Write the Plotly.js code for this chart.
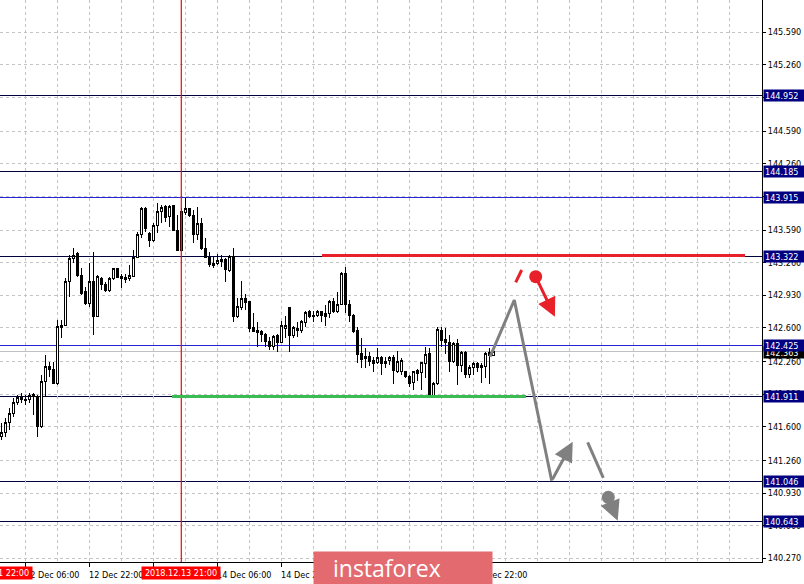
<!DOCTYPE html>
<html><head><meta charset="utf-8">
<script src="https://cdn.plot.ly/plotly-3.0.1.min.js"></script>
<style>html,body{margin:0;padding:0;background:#fff;overflow:hidden}#chart{width:804px;height:584px}
.trace.boxes path{shape-rendering:crispEdges}
</style>
</head><body><div id="chart"></div>
<script>
// H1 candles, 12 Dec 2018 00:00 .. 19 Dec 03:00 (weekend skipped)
const opens = [141.499,141.540,141.641,141.736,141.843,141.904,141.871,141.871,141.931,141.911,
141.600,142.056,142.208,142.181,142.033,142.606,142.629,143.067,143.304,143.348,
143.135,142.966,142.849,143.067,142.713,143.102,143.041,142.983,143.102,143.196,
143.118,143.108,143.102,143.118,143.310,143.540,143.810,143.557,143.489,143.641,
143.775,143.826,143.725,143.836,143.590,143.388,143.769,143.810,143.735,143.547,
143.658,143.405,143.310,143.254,143.254,143.287,143.287,143.176,143.327,142.713,
142.804,142.899,142.865,142.602,142.576,142.562,142.535,142.467,142.410,142.521,
142.454,142.589,142.811,142.521,142.599,142.572,142.653,142.761,142.727,142.727,
142.761,142.741,142.741,142.872,142.764,142.839,143.152,142.839,142.730,142.572,
142.343,142.309,142.309,142.268,142.248,142.303,142.242,142.268,142.296,142.157,
142.157,142.157,142.113,142.046,142.167,142.151,142.242,142.343,141.921,142.033,
142.572,142.485,142.450,142.258,142.444,142.215,142.349,142.124,142.201,142.242,
142.215,142.208,142.349,142.323];
const highs = [141.638,141.689,141.790,141.891,141.921,141.941,141.921,141.944,141.941,141.921,
142.124,142.326,142.258,142.258,142.680,142.680,143.102,143.337,143.408,143.371,
143.206,143.017,143.254,143.371,143.135,143.118,143.061,143.118,143.209,143.209,
143.142,143.142,143.236,143.388,143.573,143.826,143.826,143.573,143.658,143.860,
143.843,143.843,143.843,143.843,143.742,143.813,143.911,143.816,143.793,143.823,
143.709,143.506,143.371,143.320,143.345,143.337,143.304,143.337,143.411,142.899,
143.074,142.940,142.865,142.748,142.657,142.579,142.545,142.511,142.528,142.535,
142.670,142.723,142.811,142.622,142.660,142.680,142.774,142.781,142.774,142.781,
142.774,142.832,142.882,142.899,142.966,143.162,143.213,142.882,142.741,142.612,
142.495,142.394,142.359,142.309,142.394,142.316,142.309,142.316,142.326,142.369,
142.292,142.167,142.124,142.167,142.181,142.258,142.404,142.394,142.056,142.612,
142.612,142.596,142.528,142.460,142.485,142.369,142.369,142.225,142.258,142.258,
142.248,142.359,142.394,142.394];
const lows = [141.466,141.496,141.567,141.699,141.820,141.840,141.820,141.840,141.719,141.499,
141.587,141.904,142.106,142.030,142.022,142.498,142.625,142.916,143.256,143.118,
142.933,142.832,142.814,142.528,142.710,142.983,142.966,142.966,143.085,143.102,
143.007,143.051,143.074,143.118,143.310,143.506,143.573,143.421,143.472,143.557,
143.658,143.674,143.624,143.580,143.385,143.385,143.742,143.725,143.456,143.489,
143.388,143.304,143.219,143.203,143.236,143.219,143.067,143.162,142.657,142.697,
142.781,142.781,142.555,142.555,142.410,142.460,142.410,142.376,142.376,142.359,
142.444,142.495,142.359,142.495,142.511,142.545,142.612,142.697,142.663,142.707,
142.663,142.619,142.697,142.754,142.748,142.832,142.748,142.663,142.551,142.248,
142.191,142.191,142.215,142.157,142.235,142.124,142.191,142.225,142.033,142.141,
142.124,142.090,142.005,141.972,142.066,141.972,142.090,141.911,141.911,142.022,
142.404,142.336,142.157,142.242,142.022,142.157,142.090,142.090,142.124,142.157,
142.040,142.090,142.033,142.320];
const closes = [141.540,141.641,141.736,141.843,141.898,141.871,141.868,141.921,141.904,141.600,
142.056,142.208,142.181,142.033,142.612,142.629,143.067,143.304,143.337,143.135,
142.950,142.849,143.067,142.713,143.118,143.041,142.983,143.102,143.196,143.108,
143.095,143.092,143.128,143.310,143.540,143.810,143.608,143.489,143.641,143.775,
143.816,143.715,143.826,143.590,143.388,143.775,143.810,143.735,143.547,143.658,
143.405,143.310,143.243,143.236,143.277,143.270,143.186,143.327,142.713,142.814,
142.899,142.859,142.596,142.562,142.555,142.535,142.467,142.410,142.511,142.454,
142.629,142.629,142.521,142.609,142.569,142.660,142.754,142.713,142.713,142.761,
142.727,142.720,142.872,142.764,142.839,143.152,142.832,142.730,142.562,142.336,
142.282,142.292,142.258,142.242,142.303,142.235,142.265,142.296,142.167,142.265,
142.268,142.106,142.033,142.157,142.141,142.248,142.336,141.921,142.033,142.579,
142.471,142.450,142.258,142.444,142.215,142.349,142.124,142.201,142.242,142.201,
142.201,142.343,142.323,142.363];

// time axis (bar index based, MT4 style)
const tickIdx  = [6, 22, 38, 54, 70, 86, 102, 118];
const tickText = ['12 Dec 06:00','12 Dec 22:00','13 Dec 14:00','14 Dec 06:00','14 Dec 22:00','17 Dec 14:00','18 Dec 06:00','18 Dec 22:00'];
const priceTicks = [145.590,145.260,144.930,144.590,144.260,143.930,143.590,143.260,142.930,142.600,142.260,141.930,141.600,141.260,140.930,140.600,140.270];

// horizontal levels
const levelPrices = [144.952,144.185,143.915,143.322,142.425,141.911,141.046,140.643];
const levelDark   = [true,true,false,true,false,true,true,true];
const bidPrice = 142.363;

// vertical lines (bar index) and their labels
const vLineIdx = [-2, 45];
const vLineText = ['2018.12.11 22:00','2018.12.13 21:00'];

// analyst drawings (bar index, price)
const resistLine = {x: [80.2, 185.9], y: [143.335, 143.335]};
const supportLine = {x: [42.6, 131.1], y: [141.907, 141.907]};
const grayPathX = [122.2, 128.25, 137.6];
const grayPathY = [142.308, 142.882, 141.054];
const grayArrow1 = {x0: 137.6, y0: 141.054, x1: 142.85, y1: 141.448};
const graySeg = {x: [146.6, 150.5], y: [141.442, 141.084]};
const grayDot = {x: 151.75, y: 140.886};
const grayArrow2 = {x0: 151.75, y0: 140.886, x1: 154.1, y1: 140.649};
const redSeg = {x: [128.6, 130.1], y: [143.061, 143.186]};
const redDot = {x: 133.6, y: 143.118};
const redArrow = {x0: 133.6, y0: 143.118, x1: 138.4, y1: 142.713};

const xr = [-0.325, 190.175];
const yr = [140.232, 145.917];
const W = 804, H = 584, ML = 0, MR = 42, MT = 0, MB = 22;
const PW = W - ML - MR, PH = H - MT - MB;
const FONT = "'DejaVu Sans Condensed', 'Liberation Sans', Arial, sans-serif";
const RED = '#e8202a', GREEN = '#3cba54', GRAY = '#808080', NAVY = '#000080';

const xIdx = opens.map((_, i) => i);
const xFrac = v => (v - xr[0]) / (xr[1] - xr[0]);

const traces = [
  {type: 'candlestick', x: xIdx, open: opens, high: highs, low: lows, close: closes,
   increasing: {line: {color: '#000', width: 1}, fillcolor: '#fff'},
   decreasing: {line: {color: '#000', width: 1}, fillcolor: '#000'},
   whiskerwidth: 0, hoverinfo: 'skip', showlegend: false},
  {type: 'scatter', mode: 'lines', x: grayPathX, y: grayPathY, line: {color: GRAY, width: 3}, hoverinfo: 'skip', showlegend: false},
  {type: 'scatter', mode: 'lines', x: graySeg.x, y: graySeg.y, line: {color: GRAY, width: 3}, hoverinfo: 'skip', showlegend: false},
  {type: 'scatter', mode: 'lines', x: redSeg.x, y: redSeg.y, line: {color: RED, width: 3}, hoverinfo: 'skip', showlegend: false},
  {type: 'scatter', mode: 'markers', x: [grayDot.x], y: [grayDot.y], marker: {color: GRAY, size: 13}, hoverinfo: 'skip', showlegend: false},
  {type: 'scatter', mode: 'markers', x: [redDot.x], y: [redDot.y], marker: {color: RED, size: 13}, hoverinfo: 'skip', showlegend: false}
];

const shapes = [];
levelPrices.forEach((p, i) => shapes.push({type: 'line', xref: 'paper', x0: 0, x1: 1, yref: 'y', y0: p, y1: p,
  line: {color: levelDark[i] ? '#00003c' : '#2424d2', width: 1}, layer: 'below'}));
shapes.push({type: 'line', xref: 'paper', x0: 0, x1: 1, yref: 'y', y0: bidPrice, y1: bidPrice, line: {color: '#c0c0c0', width: 1}, layer: 'below'});
shapes.push({type: 'line', xref: 'x', x0: vLineIdx[1], x1: vLineIdx[1], yref: 'paper', y0: 0, y1: 1, line: {color: '#ff0000', width: 1.2}});
shapes.push({type: 'line', xref: 'x', x0: resistLine.x[0], x1: resistLine.x[1], yref: 'y', y0: resistLine.y[0], y1: resistLine.y[1], line: {color: RED, width: 3.5}});
shapes.push({type: 'line', xref: 'x', x0: supportLine.x[0], x1: supportLine.x[1], yref: 'y', y0: supportLine.y[0], y1: supportLine.y[1], line: {color: GREEN, width: 3.5}});

const annotations = [];
// bid label (black) under the level labels
annotations.push({xref: 'paper', x: 1, xanchor: 'left', xshift: 1, yref: 'y', y: bidPrice, yanchor: 'middle', yshift: -1,
  text: bidPrice.toFixed(3), showarrow: false, bgcolor: '#000', font: {color: '#fff', size: 9, family: FONT},
  width: 38, height: 9, borderpad: 1, align: 'left'});
levelPrices.forEach(p => annotations.push({xref: 'paper', x: 1, xanchor: 'left', xshift: 1, yref: 'y', y: p, yanchor: 'middle',
  text: p.toFixed(3), showarrow: false, bgcolor: NAVY, font: {color: '#fff', size: 9, family: FONT},
  width: 38, height: 9, borderpad: 1, align: 'left'}));
// vertical line labels on time axis
vLineIdx.forEach((v, i) => annotations.push({xref: 'paper', x: xFrac(v), xanchor: 'center', yref: 'paper', y: 0, yanchor: 'top', yshift: -4,
  text: vLineText[i], showarrow: false, bgcolor: '#ff0000', font: {color: '#fff', size: 9, family: FONT},
  width: 76, height: 10, borderpad: 1}));
// arrows
function arrow(a, color, size) {
  return {xref: 'x', yref: 'y', axref: 'x', ayref: 'y', x: a.x1, y: a.y1, ax: a.x0, ay: a.y0, text: '',
    showarrow: true, arrowhead: 2, arrowsize: size, arrowwidth: 3, arrowcolor: color, standoff: 0, startstandoff: 0};
}
annotations.push(arrow(grayArrow1, GRAY, 1.3));
annotations.push(arrow(grayArrow2, GRAY, 1.35));
annotations.push(arrow(redArrow, RED, 1.25));
// logo
annotations.push({xref: 'paper', x: 313 / PW, xanchor: 'left', yref: 'paper', y: (PH - 551) / PH, yanchor: 'top',
  text: ' ', showarrow: false, bgcolor: '#e36b6f', width: 178, height: 34, borderpad: 0});
annotations.push({xref: 'paper', x: 331 / PW, xanchor: 'left', yref: 'paper', y: (PH - 568) / PH, yanchor: 'middle',
  text: 'instaforex', showarrow: false, font: {color: '#fff', size: 23, family: "'Open Sans', Lato, sans-serif"}});

const gridStyle = {gridcolor: '#c4c4c4', griddash: '3px,3px', gridwidth: 1};
const layout = {
  width: W, height: H, margin: {l: ML, r: MR, t: MT, b: MB},
  paper_bgcolor: '#fff', plot_bgcolor: '#fff', showlegend: false, dragmode: false,
  boxgap: 0.3, boxgroupgap: 0.3,
  xaxis: Object.assign({range: xr, type: 'linear', showgrid: true, zeroline: false,
    tickmode: 'array', tickvals: tickIdx, ticktext: tickText, ticks: 'outside', ticklen: 4, tickcolor: '#000', tickwidth: 1,
    ticklabelshift: 27, tickfont: {size: 9, color: '#000', family: FONT},
    showline: true, linecolor: '#000', linewidth: 1,
    minor: Object.assign({tickmode: 'linear', tick0: 6, dtick: 8, showgrid: true, ticks: ''}, gridStyle),
    rangeslider: {visible: false}, fixedrange: true}, gridStyle),
  yaxis: Object.assign({range: yr, side: 'right', showgrid: true, zeroline: false,
    tickmode: 'array', tickvals: priceTicks, ticktext: priceTicks.map(v => v.toFixed(3)),
    ticks: 'outside', ticklen: 3, tickcolor: '#000', tickwidth: 1,
    tickfont: {size: 9, color: '#000', family: FONT},
    showline: true, linecolor: '#000', linewidth: 1, fixedrange: true}, gridStyle),
  shapes: shapes, annotations: annotations
};
Plotly.newPlot('chart', traces, layout, {displayModeBar: false, staticPlot: true}).then(() => {
  // crisp, MT4-like horizontal level lines (the red vertical line keeps default rendering)
  document.querySelectorAll('.shapelayer path').forEach(p => {
    if (p.style.stroke !== 'rgb(255, 0, 0)') p.style.shapeRendering = 'crispEdges';
  });
});
</script></body></html>
